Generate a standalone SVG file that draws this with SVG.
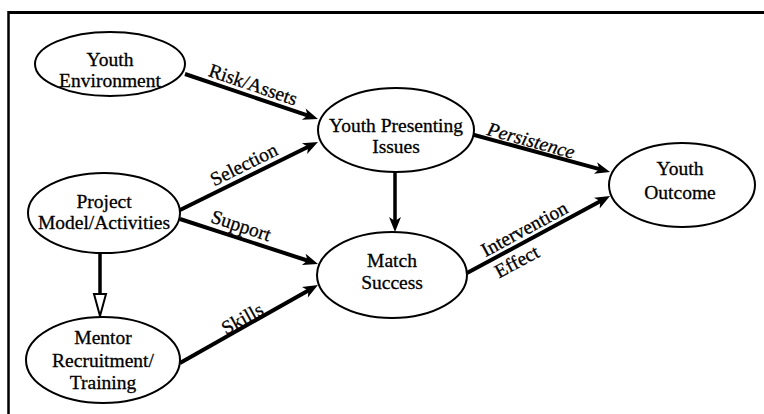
<svg xmlns="http://www.w3.org/2000/svg" width="764" height="414" viewBox="0 0 764 414">
<style>
.node ellipse{fill:#fff;stroke:#000;stroke-width:2}
.node text{font-family:"Liberation Serif","Times New Roman",serif;font-size:19.5px;fill:#000;stroke:#000;stroke-width:0.3;text-anchor:middle}
.lbl{font-family:"Liberation Serif","Times New Roman",serif;font-size:19.5px;fill:#000;stroke:#000;stroke-width:0.3;text-anchor:middle}
.c{stroke:#000;stroke-width:4;fill:none;marker-end:url(#ah)}
.v{stroke:#000;stroke-width:3.5;fill:none}
</style>
<defs>
<marker id="ah" markerUnits="userSpaceOnUse" viewBox="-8 -7 18 14" refX="0" refY="0" markerWidth="18" markerHeight="14" orient="auto">
<path d="M8,0 L-7,-6 L-3,0 L-7,6 Z" fill="#000"/>
</marker>
<marker id="oh" markerUnits="userSpaceOnUse" viewBox="-4 -8 28 16" refX="0" refY="0" markerWidth="28" markerHeight="16" orient="auto">
<path d="M22,0 L0,-6 L0,6 Z" fill="#fff" stroke="#000" stroke-width="2"/>
</marker>
</defs>
<rect width="764" height="414" fill="#fff"/>
<g id="frame">
<line x1="8" y1="12.5" x2="764" y2="12.5" stroke="#000" stroke-width="3"/>
<line x1="8.5" y1="11" x2="8.5" y2="414" stroke="#000" stroke-width="2.5"/>
</g>
<g id="connectors">
<line class="c" x1="185" y1="74" x2="310.4" y2="116.4"/>
<line class="c" x1="178" y1="211" x2="310.8" y2="145.5"/>
<line class="c" x1="180" y1="219" x2="310.4" y2="261.5"/>
<line class="c" x1="180" y1="363" x2="311" y2="288.9"/>
<line class="c" x1="467" y1="133" x2="602.3" y2="169.9"/>
<line class="c" x1="467" y1="273" x2="603" y2="199.8"/>
<line class="v" x1="395" y1="172" x2="395" y2="224" marker-end="url(#ah)"/>
<line class="v" x1="100" y1="253" x2="100" y2="294" marker-end="url(#oh)"/>
<text class="lbl" transform="translate(253,85) rotate(19)" y="6">Risk/Assets</text>
<text class="lbl" transform="translate(244,165) rotate(-26.4)" y="6">Selection</text>
<text class="lbl" transform="translate(241,226) rotate(18.4)" y="6">Support</text>
<text class="lbl" transform="translate(243,320) rotate(-29)" y="5">Skills</text>
<text class="lbl" transform="translate(531,141) rotate(15.5)" y="6" font-style="italic">Persistence</text>
<text class="lbl" transform="translate(526,232) rotate(-28.3)" y="3">Intervention</text>
<text class="lbl" transform="translate(517,262) rotate(-28.3)" y="6">Effect</text>
</g>
<g id="youth-environment" class="node">
<ellipse cx="110" cy="64" rx="75" ry="32"/>
<text x="110" y="66">Youth</text>
<text x="110" y="87">Environment</text>
</g>
<g id="youth-presenting-issues" class="node">
<ellipse cx="396" cy="130" rx="78" ry="42"/>
<text x="396" y="132">Youth Presenting</text>
<text x="396" y="153">Issues</text>
</g>
<g id="youth-outcome" class="node">
<ellipse cx="682" cy="185" rx="73" ry="42"/>
<text x="680" y="175">Youth</text>
<text x="680" y="199">Outcome</text>
</g>
<g id="project-model" class="node">
<ellipse cx="104" cy="213" rx="76" ry="40"/>
<text x="104" y="208">Project</text>
<text x="104" y="229">Model/Activities</text>
</g>
<g id="mentor-recruitment" class="node">
<ellipse cx="103" cy="360" rx="77" ry="43"/>
<text x="103" y="344">Mentor</text>
<text x="103" y="367">Recruitment/</text>
<text x="103" y="389">Training</text>
</g>
<g id="match-success" class="node">
<ellipse cx="392" cy="275" rx="75" ry="43"/>
<text x="392" y="267">Match</text>
<text x="392" y="289">Success</text>
</g>
</svg>
